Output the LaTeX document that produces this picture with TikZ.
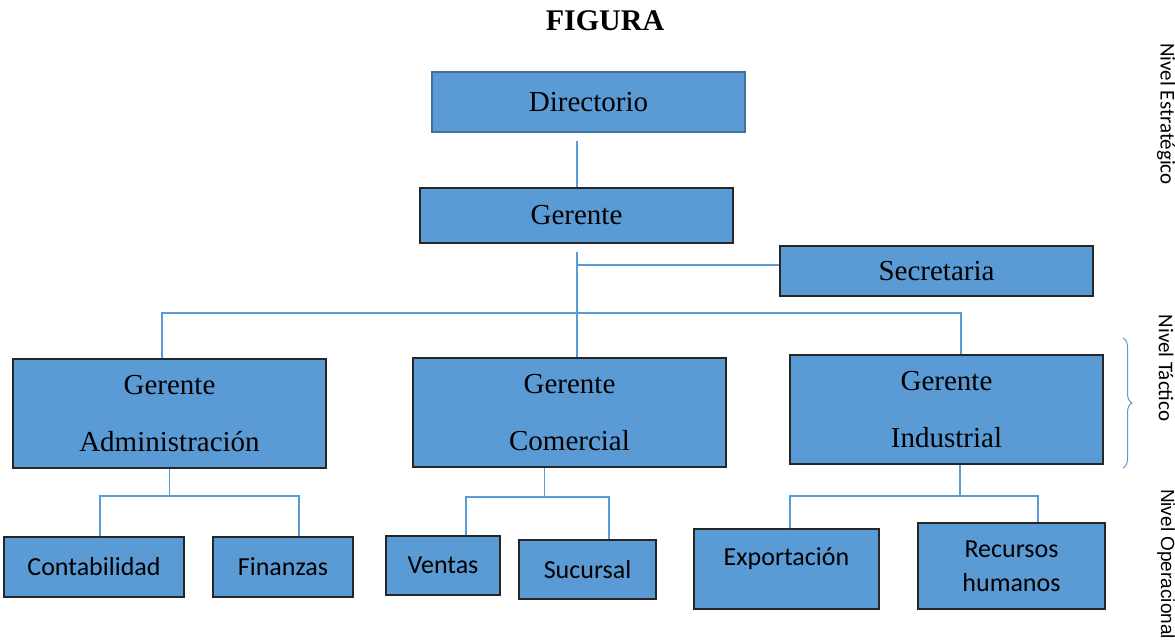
\documentclass[tikz,border=0pt]{standalone}
\usepackage{fontspec}
\setmainfont{Liberation Serif}
\newfontfamily\calibri{Carlito}
\newfontfamily\arial{Liberation Sans}
\usetikzlibrary{decorations.pathreplacing, calc, positioning}

\definecolor{boxblue}{HTML}{5B9BD5}
\definecolor{dirblue}{HTML}{41719C}
\definecolor{lineblue}{HTML}{5B9BD5}

\begin{document}
\begin{tikzpicture}[
            x=1pt, y=-1pt, % pixel grid, y downwards
            box/.style={draw=black!85, fill=boxblue, line width=1.2pt, minimum width=313pt,
                        inner sep=0pt, align=center, font=\fontsize{29}{57.5}\selectfont},
            topbox/.style={box, draw=dirblue, line width=2.5pt},
            unit/.style={box, font=\calibri\fontsize{26}{34}\selectfont},
            link/.style={draw=lineblue, line width=1.2pt},
            level/.style={rotate=-90, font=\calibri\fontsize{21}{25}\selectfont}
        ]

        \useasboundingbox (0,0) rectangle (1175,641);
        \node[font=\bfseries\fontsize{30}{36}\selectfont] (title) at (605,21) {FIGURA};

        % Upper levels
        \node[topbox, minimum height=60pt] (dir) at (588.5,102) {Directorio};
        \node[box, minimum height=55pt] (ger) at (576.5,215.5) {Gerente};
        \node[box, minimum height=50pt] (sec) at (936.5,271) {Secretaria};

        % Managers
        \node[box, minimum height=109pt] (adm) at (169.5,413.5) {Gerente\\Administración};
        \node[box, minimum height=109pt] (com) at (569.5,412.5) {Gerente\\Comercial};
        \node[box, minimum height=109pt] (ind) at (946.5,409.5) {Gerente\\Industrial};

        % Operational units
        \node[unit, minimum width=180pt, minimum height=60pt] (cont) at (94,567) {Contabilidad};
        \node[unit, minimum width=140pt, minimum height=60pt] (fin) at (283,567) {Finanzas};
        \node[unit, minimum width=114pt, minimum height=59pt] (vent) at (443,565.5) {Ventas};
        \node[unit, minimum width=137pt, minimum height=59pt] (suc) at (587.5,569.5) {Sucursal};
        \node[unit, minimum width=185pt, text height=36pt, text depth=44pt] (exp) at (786.5,569) {Exportación};
        \node[unit, minimum width=187pt, minimum height=86pt] (rh) at (1011.5,566) {Recursos\\humanos};

        % Level labels
        \node[level] (lvl-est) at (1166,114) {Nivel Estratégico};
        \node[level] (lvl-tac) at (1166,368) {Nivel Táctico};
        \node[level, font=\arial\fontsize{19}{23}\selectfont] (lvl-ope) at (1166,564) {Nivel Operacional};
        \coordinate (tac-top) at (1123,338);
        \coordinate (tac-bot) at (1123,468);
        \draw[link, line width=1pt, decorate, decoration={brace, amplitude=9pt}] (tac-top) -- (tac-bot);

        % Junction points
        \coordinate (spine) at (577,313);
        \coordinate (adm-bar) at (169.5,496);
        \coordinate (com-bar) at (544.5,497);
        \coordinate (ind-bar) at (960,496);

        % Directorio - Gerente - Secretaria
        \draw[link] ([yshift=-8pt]dir.south -| spine) -- (spine |- ger.north);
        \draw[link] ([yshift=-8pt]ger.south -| spine) -- (spine |- com.north);
        \draw[link] ([yshift=6pt]spine |- sec.west) -- ([yshift=6pt]sec.west);

        % Gerente - managers
        \draw[link] ([xshift=-7.5pt]adm.north) |- (spine) -| ([xshift=14.5pt]ind.north);

        % Managers - units
        \draw[link] (adm.south) -- (adm-bar);
        \draw[link] ([xshift=6pt]cont.north) |- (adm-bar) -| ([xshift=16pt]fin.north);
        \draw[link] ([xshift=-25pt]com.south) -- (com-bar);
        \draw[link] ([xshift=23pt]vent.north) |- (com-bar) -| ([xshift=21.5pt]suc.north);
        \draw[link] ([xshift=13.5pt]ind.south) -- (ind-bar);
        \draw[link] ([xshift=3.5pt]exp.north) |- (ind-bar) -| ([xshift=26.5pt]rh.north);

    \end{tikzpicture}
\end{document}
